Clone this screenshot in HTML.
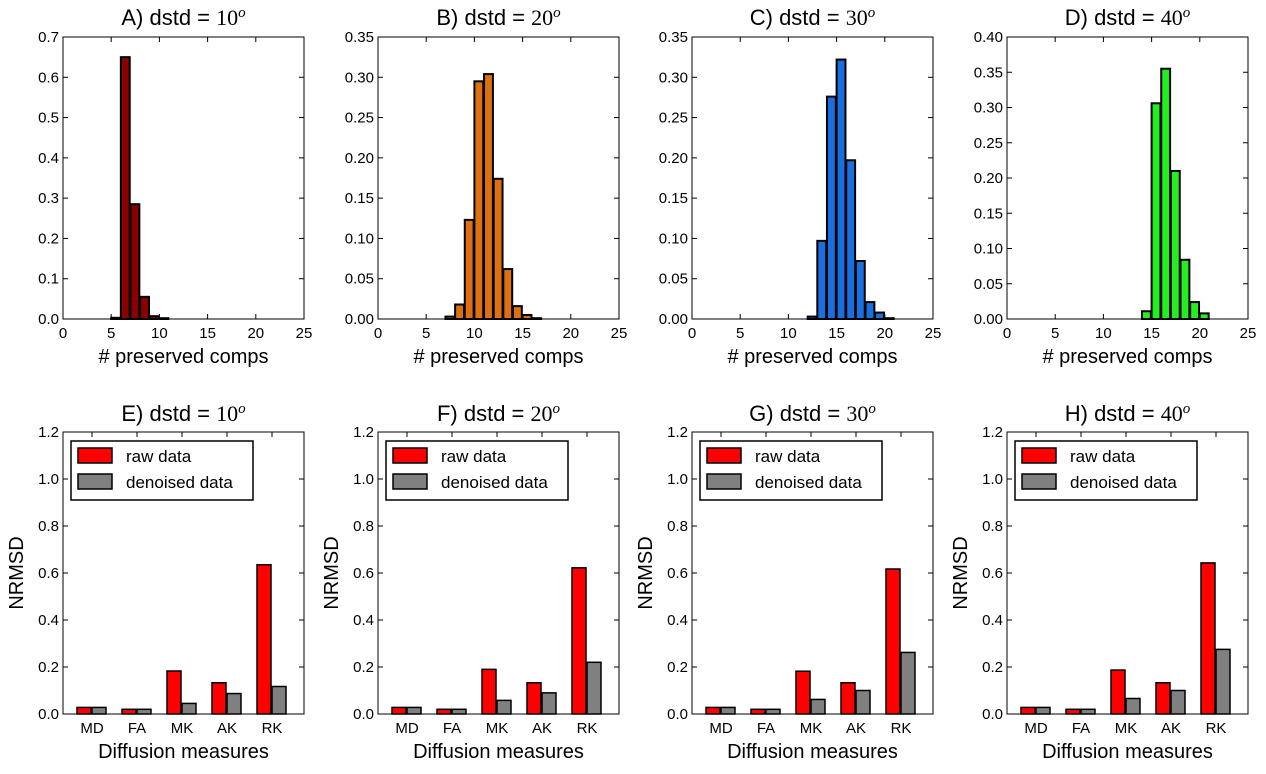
<!DOCTYPE html>
<html><head><meta charset="utf-8"><style>
body{margin:0;background:#fff}
svg{display:block;font-family:"Liberation Sans",sans-serif}
</style></head><body>
<svg id="fig" width="1266" height="774" viewBox="0 0 1266 774" xmlns="http://www.w3.org/2000/svg"></svg>
<script>
// Histogram data (bin start -> fraction)
const histBinsA = [5,6,7,8,9,10];
const histValsA = [0.003,0.65,0.285,0.055,0.007,0.002];
const histBinsB = [7,8,9,10,11,12,13,14,15,16];
const histValsB = [0.003,0.018,0.123,0.295,0.304,0.174,0.062,0.016,0.005,0.001];
const histBinsC = [12,13,14,15,16,17,18,19,20];
const histValsC = [0.003,0.097,0.276,0.322,0.197,0.072,0.021,0.008,0.001];
const histBinsD = [14,15,16,17,18,19,20];
const histValsD = [0.011,0.306,0.355,0.21,0.084,0.024,0.008];
const histYMax = [0.7,0.35,0.35,0.40];
const histYTicksA = ["0.0","0.1","0.2","0.3","0.4","0.5","0.6","0.7"];
const histYTicksB = ["0.00","0.05","0.10","0.15","0.20","0.25","0.30","0.35"];
const histYTicksD = ["0.00","0.05","0.10","0.15","0.20","0.25","0.30","0.35","0.40"];
const histXTicks = [0,5,10,15,20,25];
// Bar chart data
const measures = ["MD","FA","MK","AK","RK"];
const rawE = [0.028,0.02,0.183,0.133,0.635];
const denE = [0.028,0.02,0.045,0.087,0.117];
const rawF = [0.028,0.02,0.19,0.133,0.622];
const denF = [0.028,0.02,0.058,0.09,0.22];
const rawG = [0.028,0.02,0.182,0.133,0.617];
const denG = [0.028,0.02,0.062,0.10,0.262];
const rawH = [0.028,0.02,0.187,0.133,0.643];
const denH = [0.028,0.02,0.066,0.10,0.275];
const barYTicks = ["0.0","0.2","0.4","0.6","0.8","1.0","1.2"];

const NS="http://www.w3.org/2000/svg";
const fig=document.getElementById('fig');
function mk(tag,attrs,parent,text){const e=document.createElementNS(NS,tag);for(const k in attrs)e.setAttribute(k,attrs[k]);if(text!==undefined)e.textContent=text;(parent||fig).appendChild(e);return e;}

const lefts=[63,378,692,1007], W=241;
const titles=[["A",10],["B",20],["C",30],["D",40],["E",10],["F",20],["G",30],["H",40]];
function title(g,cx,y,i){
  const t=mk('text',{x:cx,y:y,'text-anchor':'middle','font-size':22},g);
  
  
  mk('tspan',{},t,titles[i][0]+") dstd = ");
  mk('tspan',{'font-family':'Liberation Serif, serif','font-size':22},t,String(titles[i][1]));
  mk('tspan',{'font-family':'Liberation Serif, serif','font-style':'italic','font-size':15,dy:-8},t,"o");
}
const histSets=[[histBinsA,histValsA,'#8b0000',histYTicksA],[histBinsB,histValsB,'#dd7010',histYTicksB],[histBinsC,histValsC,'#1a6fdf',histYTicksB],[histBinsD,histValsD,'#22ee22',histYTicksD]];
const top1=37,bot1=319;
histSets.forEach((s,i)=>{
  const L=lefts[i];
  const g=mk('g',{});
  
  
  const xs=v=>L+v/25*W, ys=v=>bot1-v/histYMax[i]*(bot1-top1);
  title(g,L+W/2,25,i);
  s[0].forEach((b,j)=>{
    const r=mk('rect',{x:xs(b),y:ys(s[1][j]),width:xs(b+0.92)-xs(b),height:bot1-ys(s[1][j]),fill:s[2],stroke:'#000','stroke-width':2},g);
    
    
  });
  mk('rect',{x:L,y:top1,width:W,height:bot1-top1,fill:'none',stroke:'#000','stroke-width':1},g);
  const n=s[3].length;
  s[3].forEach((lab,k)=>{
    const v=k*histYMax[i]/(n-1), y=ys(v);
    mk('line',{x1:L,x2:L+5,y1:y,y2:y,stroke:'#000'},g);
    mk('line',{x1:L+W,x2:L+W-5,y1:y,y2:y,stroke:'#000'},g);
    mk('text',{x:L-4,y:y+5,'text-anchor':'end','font-size':15},g,lab);
  });
  histXTicks.forEach(t=>{
    const x=xs(t);
    mk('line',{x1:x,x2:x,y1:bot1,y2:bot1-5,stroke:'#000'},g);
    mk('line',{x1:x,x2:x,y1:top1,y2:top1+5,stroke:'#000'},g);
    mk('text',{x:x,y:bot1+19,'text-anchor':'middle','font-size':15},g,String(t));
  });
  mk('text',{x:L+W/2,y:363,'text-anchor':'middle','font-size':20},g,"# preserved comps");
});
const barSets=[[rawE,denE],[rawF,denF],[rawG,denG],[rawH,denH]];
const top2=432,bot2=714;
barSets.forEach((s,i)=>{
  const L=lefts[i];
  const g=mk('g',{});
  
  
  const xs=k=>L+29+45*k, ys=v=>bot2-v/1.2*(bot2-top2);
  title(g,L+W/2,421,i+4);
  measures.forEach((m,k)=>{
    const r1=mk('rect',{x:xs(k)-15,y:ys(s[0][k]),width:14,height:bot2-ys(s[0][k]),fill:'#ff0000',stroke:'#000','stroke-width':1.5},g);
    
    
    const r2=mk('rect',{x:xs(k),y:ys(s[1][k]),width:14,height:bot2-ys(s[1][k]),fill:'#808080',stroke:'#000','stroke-width':1.5},g);
    
    
    mk('line',{x1:xs(k),x2:xs(k),y1:bot2,y2:bot2-5,stroke:'#000'},g);
    mk('line',{x1:xs(k),x2:xs(k),y1:top2,y2:top2+5,stroke:'#000'},g);
    mk('text',{x:xs(k),y:bot2+19,'text-anchor':'middle','font-size':15},g,m);
  });
  mk('rect',{x:L,y:top2,width:W,height:bot2-top2,fill:'none',stroke:'#000','stroke-width':1},g);
  barYTicks.forEach((lab,k)=>{
    const y=ys(k*0.2);
    mk('line',{x1:L,x2:L+5,y1:y,y2:y,stroke:'#000'},g);
    mk('line',{x1:L+W,x2:L+W-5,y1:y,y2:y,stroke:'#000'},g);
    mk('text',{x:L-4,y:y+5,'text-anchor':'end','font-size':15},g,lab);
  });
  mk('text',{x:L+W/2,y:758,'text-anchor':'middle','font-size':20},g,"Diffusion measures");
  const yl=mk('text',{x:0,y:0,'text-anchor':'middle','font-size':20,transform:`translate(${L-40},${(top2+bot2)/2}) rotate(-90)`},g,"NRMSD");
  
  
  const lg=mk('g',{},g);
  
  
  mk('rect',{x:L+8,y:441,width:182,height:59,fill:'#fff',stroke:'#000','stroke-width':1.5},lg);
  mk('rect',{x:L+15,y:448,width:34,height:15,fill:'#ff0000',stroke:'#000','stroke-width':1.5},lg);
  mk('rect',{x:L+15,y:474,width:34,height:15,fill:'#808080',stroke:'#000','stroke-width':1.5},lg);
  mk('text',{x:L+63,y:462,'font-size':17},lg,"raw data");
  mk('text',{x:L+63,y:488,'font-size':17},lg,"denoised data");
});
</script>
</body></html>
